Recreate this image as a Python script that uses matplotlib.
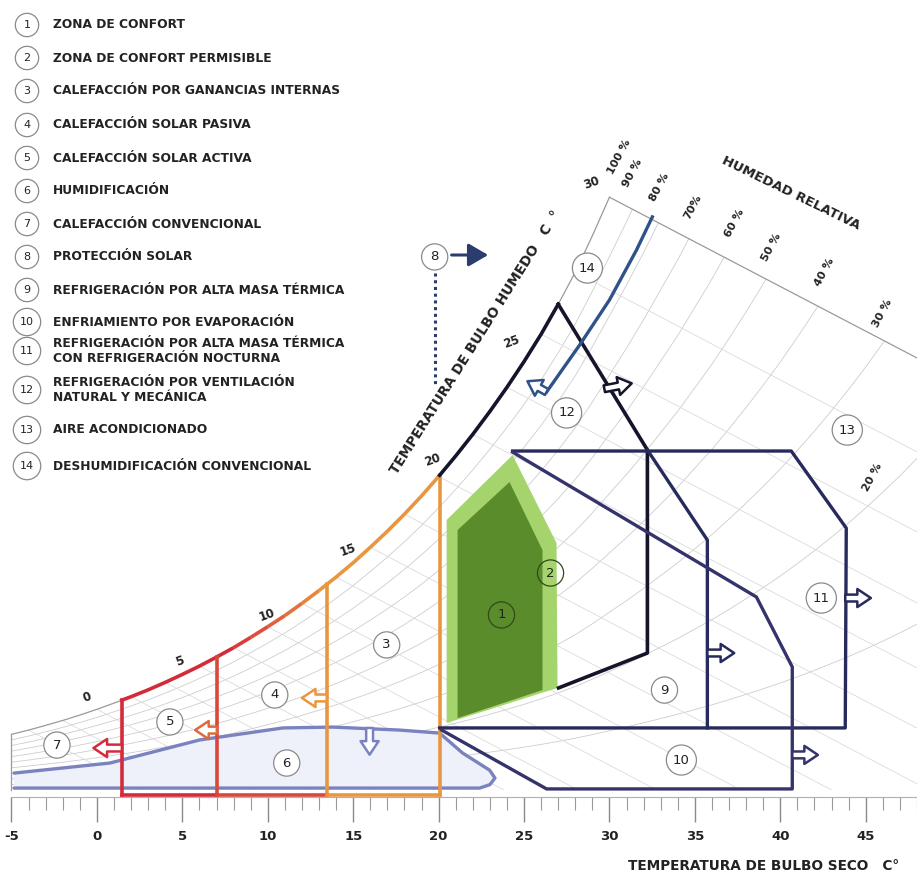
import numpy as np
import matplotlib
matplotlib.use("agg")
import matplotlib.pyplot as plt
from matplotlib.patches import Polygon, FancyArrowPatch
from matplotlib.collections import LineCollection

plt.rcParams["axes.unicode_minus"] = False

# Saturation curve: dry bulb (C) -> humidity (chart units, g/kg)
sat_t = list(range(-5, 49))
sat_w = [2.60, 2.80, 3.02, 3.25, 3.50, 3.77, 4.06, 4.36, 4.68, 5.03, 5.40, 5.79, 6.21, 6.65,
         7.13, 7.63, 8.15, 8.72, 9.32, 9.95, 10.62, 11.34, 12.09, 12.89, 13.74, 14.65, 15.61,
         16.62, 17.69, 18.82, 20.02, 21.3, 22.7, 24.2, 25.9, 27.7, 29.5, 31.4, 33.4, 35.4, 37.6,
         39.8, 42.2, 44.7, 47.3, 50.0, 52.9, 55.9, 59.1, 62.4, 65.9, 69.6, 73.4, 77.5]

# upper border of the chart (wet bulb 30 line)
top_t = [30, 48.5]
top_w = [27.7, 19.98]

rh_levels = [0.1, 0.2, 0.3, 0.4, 0.5, 0.6, 0.7, 0.8, 0.9]
rh_labels = ["100 %", "90 %", "80 %", "70%", "60 %", "50 %", "40 %", "30 %", "20 %"]
rh_label_t = [30.58, 31.35, 32.92, 34.85, 37.31, 39.47, 42.57, 45.96, 45.38]
rh_label_w = [29.58, 28.83, 28.18, 27.24, 26.5, 25.37, 24.21, 22.29, 14.63]

wb_lines = list(range(-4, 30, 2))
wb_labels = ["0", "5", "10", "15", "20", "25", "30"]
wb_label_t = [-0.58, 4.85, 9.94, 14.68, 19.65, 24.27, 28.95]
wb_label_w = [4.35, 6.03, 8.18, 11.21, 15.42, 20.93, 28.36]

# heating zones: dry bulb limits
heat_t = [1.46, 7.02, 13.45, 20.06]

# zone outlines (dry bulb, humidity)
z2_t = [20.47, 20.47, 24.33, 26.9, 26.96]
z2_w = [3.13, 12.62, 15.65, 11.54, 4.77]
z1_t = [21.11, 21.11, 24.15, 26.08, 26.08]
z1_w = [3.36, 12.15, 14.39, 11.21, 4.67]

z6_t = [-4.85, 0.76, 6.02, 10.88, 13.8, 17.72, 20.06, 21.4, 22.98, 23.3, 23.0, 22.4, -4.85]
z6_w = [0.79, 1.26, 2.34, 2.90, 2.94, 2.80, 2.66, 1.73, 0.93, 0.56, 0.25, 0.09, 0.09]

z12_t = [27.0, 32.22, 32.22, 27.02]
z12_w = [22.7, 15.89, 6.40, 4.77]
z9_t = [32.22, 35.73, 35.73]
z9_w = [15.89, 11.68, 2.90]
z11_t = [24.33, 40.64, 43.86, 43.8, 20.06]
z11_w = [15.84, 15.84, 12.24, 2.90, 2.90]
z10_t = [24.33, 38.6, 40.7, 40.7, 26.32, 20.18]
z10_w = [15.79, 9.02, 5.75, 0.05, 0.05, 2.80]
z14_t = [32.51, 31.58, 30.0, 28.25, 26.32]
z14_w = [26.78, 25.23, 22.9, 20.79, 18.6]

# arrows: (tail t, tail w, head t, head w)
arrows = {
    "7": (1.46, 1.96, -0.2, 1.96),
    "5": (7.02, 2.80, 5.75, 2.80),
    "4": (13.45, 4.30, 12.0, 4.30),
    "6": (15.96, 2.90, 15.96, 1.65),
    "9": (35.73, 6.40, 37.3, 6.40),
    "10": (40.7, 1.64, 42.2, 1.64),
    "11": (43.8, 8.97, 45.3, 8.97),
    "12": (29.7, 18.75, 31.3, 19.0),
    "14": (26.32, 18.6, 25.2, 19.1),
}

zone_ids = [str(i) for i in range(1, 15)]
zone_lab_t = [23.68, 26.55, 16.96, 10.41, 4.27, 11.11, -2.34, 19.77, 33.22, 34.21, 42.4, 27.49, 43.92, 28.71]
zone_lab_w = [8.18, 10.14, 6.78, 4.44, 3.18, 1.26, 2.10, 24.91, 4.67, 1.40, 8.97, 17.62, 16.82, 24.39]

legend_txt = [
    "ZONA DE CONFORT",
    "ZONA DE CONFORT PERMISIBLE",
    "CALEFACCIÓN POR GANANCIAS INTERNAS",
    "CALEFACCIÓN SOLAR PASIVA",
    "CALEFACCIÓN SOLAR ACTIVA",
    "HUMIDIFICACIÓN",
    "CALEFACCIÓN CONVENCIONAL",
    "PROTECCIÓN SOLAR",
    "REFRIGERACIÓN POR ALTA MASA TÉRMICA",
    "ENFRIAMIENTO POR EVAPORACIÓN",
    "REFRIGERACIÓN POR ALTA MASA TÉRMICA\nCON REFRIGERACIÓN NOCTURNA",
    "REFRIGERACIÓN POR VENTILACIÓN\nNATURAL Y MECÁNICA",
    "AIRE ACONDICIONADO",
    "DESHUMIDIFICACIÓN CONVENCIONAL",
]
legend_y = [25, 58, 91, 125, 158, 191, 224, 257, 290, 322, 351, 390, 430, 466]

RED = "#d42b3a"
REDOR = "#d9493a"
ORANGE = "#e9973f"
NAVY = "#272a5c"
BLACK = "#14152b"
BLUE14 = "#2f5388"
HUM = "#7b83bf"
GRID = "#cdcdcd"

W, H = 917, 881
fig = plt.figure(figsize=(9.17, 8.81), dpi=100)
ax = fig.add_axes([0, 0, 1, 1])
ax.set_xlim(-97 / 17.1, 820 / 17.1)
ax.set_ylim((790 - 881) / 21.4, 790 / 21.4)


def sat(t):
    return np.interp(t, sat_t, sat_w)


def sat_seg(t0, t1):
    ts = [t0] + [t for t in sat_t if t0 < t < t1] + [t1]
    return np.array(ts), sat(ts)


# chart region used to clip the grid
st, sw = sat_seg(-5, 30)
reg = np.vstack([[[-5, 0]], np.column_stack([st, sw]),
                 [[top_t[1], top_w[1]], [top_t[1], 0]]])
region = Polygon(reg, closed=True, transform=ax.transData)

sw_arr = np.array(sat_w)
for rh in rh_levels:
    ln, = ax.plot(sat_t, rh * sw_arr, color=GRID, lw=0.6, zorder=1)
    ln.set_clip_path(region)
for tw in wb_lines:
    w0 = sat(tw)
    ln, = ax.plot([tw, tw + w0 / 0.42], [w0, 0], color="#d8d8d8", lw=0.55, zorder=1)
    ln.set_clip_path(region)

# frame
ax.plot(st, sw, color="#9a9a9a", lw=0.9, zorder=2)
ax.plot(top_t, top_w, color="#9a9a9a", lw=0.9, zorder=2)
ax.plot([-5, -5], [0, sat(-5)], color="#9a9a9a", lw=0.9, zorder=2)

# humidification zone 6
ax.fill(z6_t, z6_w, color="#eef0fa", zorder=1.5, lw=0)
ax.plot(z6_t, z6_w, color=HUM, lw=2.4, zorder=3, solid_capstyle="round")

# green comfort zones
ax.fill(z2_t, z2_w, color="#a6d46c", zorder=3, lw=0)
ax.fill(z1_t, z1_w, color="#5b8c2c", zorder=3.1, lw=0)

# heating zones: saturation segments, verticals, bottom
t, w = sat_seg(heat_t[0], heat_t[1])
ax.plot(t, w, color=RED, lw=2.6, zorder=4)
t, w = sat_seg(heat_t[1], heat_t[2])
pts = np.column_stack([t, w])
segs = [pts[i:i + 2] for i in range(len(pts) - 1)]
c0 = np.array(matplotlib.colors.to_rgb(RED))
c1 = np.array(matplotlib.colors.to_rgb(ORANGE))
cols = [c0 + (c1 - c0) * (i / max(1, len(segs) - 1)) for i in range(len(segs))]
ax.add_collection(LineCollection(segs, colors=cols, lw=2.6, zorder=4))
t, w = sat_seg(heat_t[2], heat_t[3])
ax.plot(t, w, color=ORANGE, lw=2.6, zorder=4)

for tx, c in zip(heat_t, [RED, REDOR, ORANGE, ORANGE]):
    ax.plot([tx, tx], [-0.23, sat(tx)], color=c, lw=2.6, zorder=4)
ax.plot(heat_t[:2], [-0.23, -0.23], color=RED, lw=2.6, zorder=4)
ax.plot(heat_t[1:3], [-0.23, -0.23], color=REDOR, lw=2.6, zorder=4)
ax.plot(heat_t[2:4], [-0.23, -0.23], color=ORANGE, lw=2.6, zorder=4)

# cooling zones
t, w = sat_seg(20.06, 27.0)
ax.plot(t, w, color=BLACK, lw=2.6, zorder=4)
ax.plot(z12_t, z12_w, color=BLACK, lw=2.6, zorder=4)
ax.plot(z9_t, z9_w, color=NAVY, lw=2.4, zorder=4)
ax.plot(z11_t, z11_w, color=NAVY, lw=2.4, zorder=4)
ax.plot(z10_t, z10_w, color="#34336b", lw=2.4, zorder=4)
ax.plot(z14_t, z14_w, color=BLUE14, lw=2.4, zorder=4)

# solar protection 8
ax.plot([19.77, 19.77], [24.16, 18.83], color="#2a3d6e", lw=2.2, ls=(0, (1, 1.2)), zorder=4)
ax.add_patch(FancyArrowPatch((20.76, 25.0), (22.9, 25.0),
                             arrowstyle="-|>,head_length=0.6,head_width=0.35",
                             mutation_scale=20, color="#2a3d6e", lw=2.2,
                             shrinkA=0, shrinkB=0, zorder=5))

arrow_col = {"7": RED, "5": "#de6a3c", "4": ORANGE, "6": HUM, "9": NAVY,
             "10": "#34336b", "11": NAVY, "12": BLACK, "14": BLUE14}
for k, (t0, w0, t1, w1) in arrows.items():
    ax.add_patch(FancyArrowPatch((t0, w0), (t1, w1),
                                 arrowstyle="simple,head_length=0.75,head_width=1.0,tail_width=0.38",
                                 mutation_scale=13, fc="white", ec=arrow_col[k], lw=1.8,
                                 shrinkA=0, shrinkB=0, zorder=6))

# circled zone numbers
for s, tx, wy in zip(zone_ids, zone_lab_t, zone_lab_w):
    fc = "none" if s in ("1", "2") else "white"
    ec = "#2f4a1a" if s in ("1", "2") else "#8a8a8a"
    ax.text(tx, wy, s, ha="center", va="center", fontsize=9.5, color="#222",
            zorder=7, bbox=dict(boxstyle="circle,pad=0.5", fc=fc, ec=ec, lw=0.9))

# grid labels
for s, tx, wy in zip(rh_labels, rh_label_t, rh_label_w):
    ax.text(tx, wy, s, ha="center", va="center", rotation=62, fontsize=8,
            fontweight="bold", color="#222", zorder=7)
for s, tx, wy in zip(wb_labels, wb_label_t, wb_label_w):
    ax.text(tx, wy, s, ha="center", va="center", rotation=20, fontsize=8.5,
            fontweight="bold", color="#222", zorder=7)

ax.text(22.2, 20.9, "TEMPERATURA DE BULBO HUMEDO   C  °", ha="center", va="center",
        rotation=57.8, fontsize=9.8, fontweight="bold", color="#222", zorder=7)
ax.text(40.64, 27.9, "HUMEDAD RELATIVA", ha="center", va="center", rotation=-26,
        fontsize=9.5, fontweight="bold", color="#222", zorder=7)

# x axis
for side in ["top", "left", "right"]:
    ax.spines[side].set_visible(False)
ax.spines["bottom"].set_position(("data", -0.33))
ax.spines["bottom"].set_bounds(-5, 48)
ax.spines["bottom"].set_color("#b0b0b0")
ax.spines["bottom"].set_linewidth(0.8)
ax.set_xticks(range(-5, 46, 5))
ax.set_xticks(range(-5, 49), minor=True)
ax.tick_params(axis="x", which="major", length=18, width=1.0, color="#8a8a8a",
               pad=6, labelsize=9.5, labelcolor="#222")
ax.tick_params(axis="x", which="minor", length=9, width=0.8, color="#9a9a9a")
for lab in ax.get_xticklabels():
    lab.set_fontweight("bold")
ax.set_yticks([])
fig.text(764 / W, 1 - 866 / H, "TEMPERATURA DE BULBO SECO   C°", ha="center", va="center",
         fontsize=9.8, fontweight="bold", color="#222")

# legend
for i, (s, y) in enumerate(zip(legend_txt, legend_y)):
    fig.text(27 / W, 1 - y / H, str(i + 1), ha="center", va="center", fontsize=8,
             color="#222", bbox=dict(boxstyle="circle,pad=0.6", fc="white", ec="#8a8a8a", lw=0.9))
    fig.text(53 / W, 1 - y / H, s, ha="left", va="center", fontsize=8.8,
             fontweight="bold", color="#222", linespacing=1.2)

fig.savefig("out.png", dpi=100)
plt.close(fig)
